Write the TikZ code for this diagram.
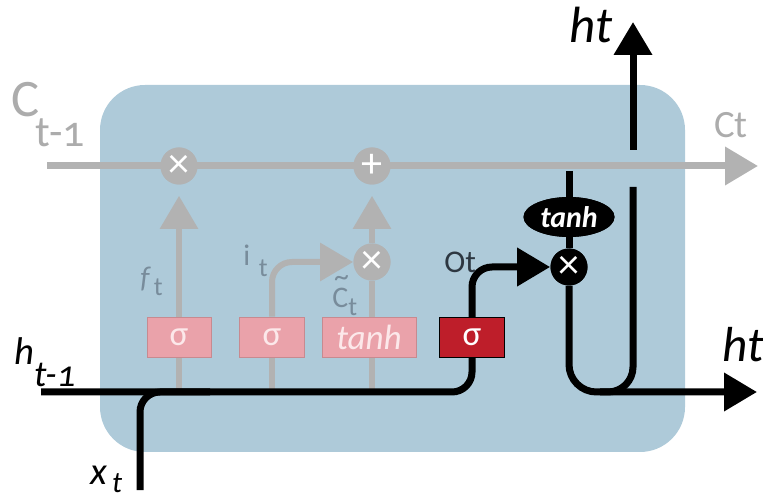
\documentclass[tikz,border=0pt]{standalone}
\usepackage{fontspec}
\setmainfont{Carlito}
\usetikzlibrary{arrows.meta,shapes.geometric}
\definecolor{bgblue}{RGB}{174,202,217}
\definecolor{cgray}{RGB}{178,178,178}
\definecolor{gpink}{RGB}{234,162,170}
\definecolor{gpinktxt}{RGB}{252,232,234}
\definecolor{gred}{RGB}{190,30,42}
\definecolor{lblue}{RGB}{120,140,155}
\definecolor{lgray}{RGB}{172,172,172}
\definecolor{otxt}{RGB}{45,55,65}
\begin{document}
\begin{tikzpicture}[x=0.02cm,y=-0.02cm,
  cline/.style={line width=0.14cm, draw=cgray},
  gline/.style={line width=0.12cm, draw=cgray},
  bline/.style={line width=0.14cm, draw=black},
  gtip/.style={-{Triangle[length=0.66cm,width=0.74cm]}},
  gatebox/.style={rectangle, fill=gpink, draw=gpink!85!black, line width=0.5pt,
    minimum height=0.8cm, inner sep=0pt, text=gpinktxt, font=\fontsize{20pt}{20pt}\selectfont},
  obox/.style={gatebox, fill=gred, draw=black, text=white, minimum width=1.3cm},
  gcirc/.style={circle, fill=cgray, minimum size=0.74cm, inner sep=0pt, text=white,
    font=\fontsize{24pt}{24pt}\selectfont},
  bcirc/.style={gcirc, fill=black},
  tanhell/.style={ellipse, fill=black, minimum width=1.82cm, minimum height=0.8cm,
    inner sep=0pt, text=white, font=\fontsize{17pt}{17pt}\selectfont\bfseries\itshape},
  lab/.style={anchor=base west, inner sep=0pt}
]
\useasboundingbox (0,0) rectangle (763,502);
% cell background
\fill[bgblue, rounded corners=0.9cm] (100,85) rectangle (685,452);

% coordinates
\coordinate (cin) at (47,166);
\coordinate (cout) at (758,166);
\coordinate (hin) at (41,392);
\coordinate (xin) at (140,490);
\coordinate (xj) at (210,392);
\coordinate (ctap) at (569,171);
\coordinate (hout) at (757,392);
\coordinate (hj) at (600,392);
\coordinate (hv1) at (633,187);
\coordinate (hv2) at (633,150);
\coordinate (htop) at (633,22);

% gates
\node[gatebox, minimum width=1.28cm] (f) at (179,337) {σ};
\node[gatebox, minimum width=1.3cm] (i) at (272,337) {σ};
\node[gatebox, minimum width=1.88cm, font=\fontsize{20pt}{20pt}\selectfont\itshape] (g) at (369,337) {tanh};
\node[gcirc] (mf) at (179,166) {×};
\node[gcirc] (pl) at (372,166) {+};
\node[gcirc] (mi) at (372,262) {×};

% grey connectors
\draw[gline] (f.south) -- (f.south |- hin);
\draw[gline] (i.south) -- (i.south |- hin);
\draw[gline] (mi |- g.south) -- (mi |- hin);
\draw[gline, gtip, shorten >=0.22cm] (f.north) -- (mf.south);
\draw[gline, gtip, rounded corners=0.4cm] (i.north) |- (mi.west);
\draw[gline] (mi |- g.north) -- (mi.south);
\draw[gline, gtip, shorten >=0.22cm] (mi.north) -- (pl.south);
\draw[cline, gtip] (cin) -- (cout);

% redraw grey nodes on top of lines
\node[gatebox, minimum width=1.28cm] at (f) {σ};
\node[gatebox, minimum width=1.3cm] at (i) {σ};
\node[gatebox, minimum width=1.88cm, font=\fontsize{20pt}{20pt}\selectfont\itshape] at (g) {tanh};
\node[gcirc] at (mf) {×};
\node[gcirc] at (pl) {+};
\node[gcirc] at (mi) {×};

% black paths
\node[obox] (o) at (472,337) {σ};
\node[bcirc] (mo) at (569,267) {×};
\node[tanhell] (th) at (569,217) {tanh};
\draw[bline, gtip, rounded corners=0.4cm] (hin) -| (o.center) |- (mo.west);
\draw[bline, rounded corners=0.4cm] (xin) |- (xj);
\draw[bline] (ctap) -- (th.north);
\draw[bline] (th.south) -- (mo.north);
\draw[bline, gtip, rounded corners=0.55cm] (mo.south) |- (hout);
\draw[bline, rounded corners=0.5cm] (hj) -| (hv1);
\draw[bline, gtip] (hv2) -- (htop);
\node[obox] at (o) {σ};
\node[bcirc] at (mo) {×};
\node[tanhell] at (th) {tanh};

% labels
\node[lab, text=lgray, font=\fontsize{30pt}{30pt}\selectfont] (lcin) at (11,117)
  {C\kern-2pt\raisebox{-17pt}{\fontsize{25pt}{25pt}\selectfont\addfontfeature{Numbers=OldStyle}t-1}};
\node[lab, text=lgray, font=\fontsize{22pt}{22pt}\selectfont] (lcout) at (714,138) {Ct};
\node[lab, font=\fontsize{29pt}{29pt}\selectfont\itshape] (lhtop) at (569,43) {ht};
\node[lab, font=\fontsize{28pt}{28pt}\selectfont\itshape] (lhout) at (722,362) {ht};
\node[lab, font=\fontsize{22pt}{22pt}\selectfont\itshape] (lhin) at (14,365)
  {h\raisebox{-12pt}{\fontsize{21pt}{21pt}\selectfont\addfontfeature{Numbers=OldStyle}t-1}};
\node[lab, font=\fontsize{22pt}{22pt}\selectfont\itshape] (lxin) at (90,484)
  {x\raisebox{-5pt}{\fontsize{17pt}{17pt}\selectfont\,t}};
\node[lab, text=lblue, font=\fontsize{17pt}{17pt}\selectfont\itshape] (lf) at (140,288)
  {f\raisebox{-4pt}{\upshape\fontsize{15pt}{15pt}\selectfont\,t}};
\node[lab, text=lblue, font=\fontsize{17pt}{17pt}\selectfont] (li) at (243,266)
  {i\raisebox{-6pt}{\fontsize{15pt}{15pt}\selectfont\,\,t}};
\node[lab, text=lblue, font=\fontsize{17pt}{17pt}\selectfont] (lc) at (332,308)
  {\rlap{\raisebox{12.5pt}{\kern1pt\char"7E}}C\raisebox{-4pt}{\fontsize{15pt}{15pt}\selectfont t}};
\node[lab, text=otxt, font=\fontsize{18pt}{18pt}\selectfont] (lo) at (444,273) {Ot};
\end{tikzpicture}
\end{document}
